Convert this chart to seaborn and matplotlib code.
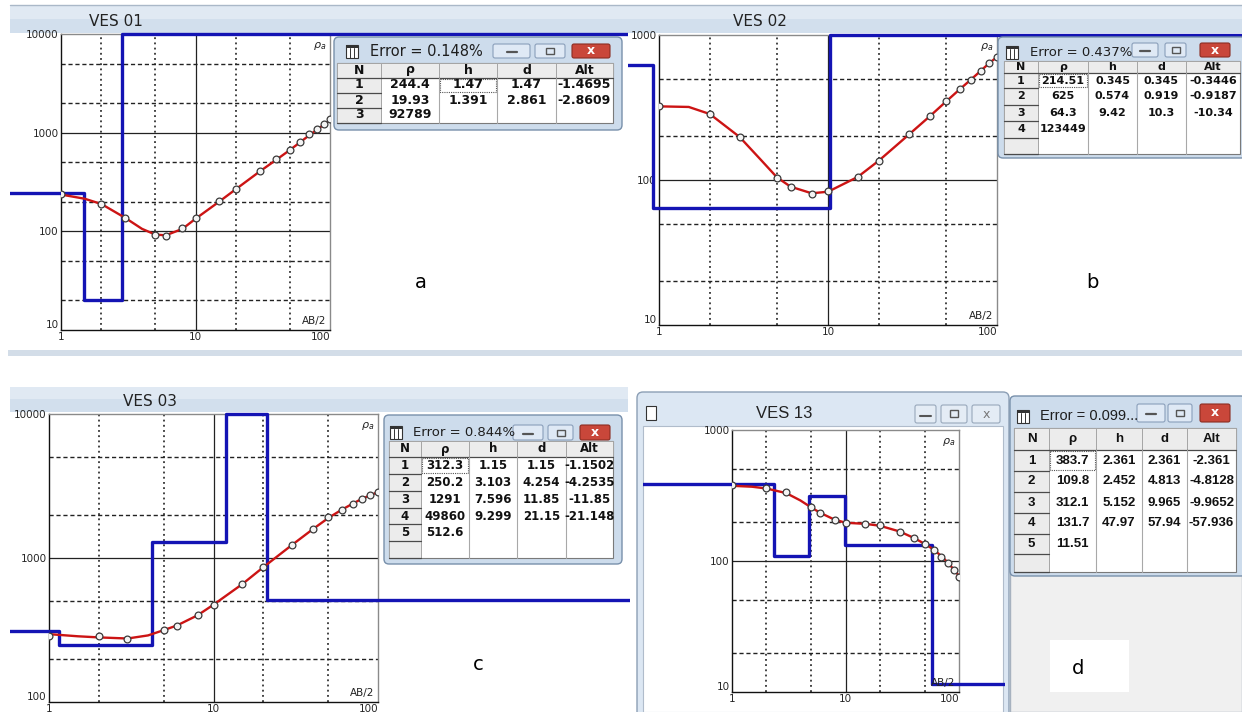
import numpy as np
import matplotlib
matplotlib.use("Agg")
import matplotlib.pyplot as plt
import seaborn as sns
from matplotlib.patches import Rectangle, FancyBboxPatch
from matplotlib.transforms import Bbox, TransformedBbox
from matplotlib.ticker import FixedLocator, LogLocator, NullFormatter

# ---------------- data ----------------
ab2 = [1, 2, 3, 5, 6, 8, 10, 15, 20, 30, 40, 50, 60, 70, 80, 90, 100]
fit_ab2 = [1, 1.5, 2, 3, 4, 5, 6, 8, 10, 15, 20, 30, 40, 50, 60, 70, 80, 90, 100]

ves01_obs = [237, 191, 136, 91, 90, 108, 138, 203, 271, 408, 536, 667, 809, 960, 1079, 1211, 1361]
ves01_fit = [236, 214, 189, 137, 106, 93, 91, 106, 134, 200, 268, 404, 533, 663, 800, 940, 1072, 1205, 1340]
ves01_rho = ["244.4", "19.93", "92789"]
ves01_h = ["1.47", "1.391"]
ves01_d = ["1.47", "2.861"]
ves01_alt = ["-1.4695", "-2.8609"]
ves01_err = "Error = 0.148%"

ves02_obs = [322, 283, 197, 104, 89, 80.5, 84, 105, 136, 206, 276, 349, 422, 492, 566, 643, 707]
ves02_fit = [322, 319, 285, 198, 138, 104, 90, 81, 83, 105, 136, 205, 275, 348, 421, 492, 565, 640, 705]
ves02_rho = ["214.51", "625", "64.3", "123449"]
ves02_h = ["0.345", "0.574", "9.42"]
ves02_d = ["0.345", "0.919", "10.3"]
ves02_alt = ["-0.3446", "-0.9187", "-10.34"]
ves02_err = "Error = 0.437%"

ves03_obs = [289, 289, 274, 315, 339, 402, 474, 659, 861, 1239, 1588, 1914, 2168, 2371, 2583, 2723, 2856]
ves03_fit = [296, 286, 281, 276, 290, 316, 340, 400, 474, 660, 860, 1232, 1580, 1900, 2160, 2380, 2580, 2730, 2870]
ves03_rho = ["312.3", "250.2", "1291", "49860", "512.6"]
ves03_h = ["1.15", "3.103", "7.596", "9.299"]
ves03_d = ["1.15", "4.254", "11.85", "21.15"]
ves03_alt = ["-1.1502", "-4.2535", "-11.85", "-21.148"]
ves03_err = "Error = 0.844%"

ves13_obs = [380, 358, 334, 259, 233, 205, 194, 191, 188, 167, 150, 134, 121, 108, 96, 85, 75]
ves13_fit = [375, 369, 358, 330, 290, 256, 233, 207, 196, 192, 186, 168, 150, 135, 122, 109, 97, 86, 77]
ves13_rho = ["383.7", "109.8", "312.1", "131.7", "11.51"]
ves13_h = ["2.361", "2.452", "5.152", "47.97"]
ves13_d = ["2.361", "4.813", "9.965", "57.94"]
ves13_alt = ["-2.361", "-4.8128", "-9.9652", "-57.936"]
ves13_err = "Error = 0.099..."

header = ["N", "ρ", "h", "d", "Alt"]

# ---------------- style ----------------
sns.set_theme(style="white")
plt.rcParams['font.family'] = ['DejaVu Sans']
plt.rcParams['mathtext.fontset'] = 'dejavusans'

BLUE = '#1414b4'
RED = '#cc1414'
W, H = 1242, 712
fig = plt.figure(figsize=(W / 100, H / 100), dpi=100)
fig.patch.set_facecolor('white')


def fig_rect(x0, y0, x1, y1):
    return [x0 / W, 1 - y1 / H, (x1 - x0) / W, (y1 - y0) / H]


def pix_bbox(x0, y0, x1, y1):
    return TransformedBbox(Bbox.from_extents(x0 / W, 1 - y1 / H, x1 / W, 1 - y0 / H), fig.transFigure)


bg = fig.add_axes([0, 0, 1, 1], zorder=-5)
bg.set_xlim(0, W); bg.set_ylim(H, 0); bg.axis('off')


def rect(ax, x0, y0, x1, y1, **kw):
    ax.add_patch(Rectangle((x0, y0), x1 - x0, y1 - y0, **kw))


# window chrome (background)
rect(bg, 10, 5, W, 19, fc='#e0e9f3', ec='none')
rect(bg, 10, 19, W, 33, fc='#d2dfed', ec='none')
bg.plot([10, W], [5, 5], color='#aab8c8', lw=1)
rect(bg, 8, 350, W, 356, fc='#d3dde8', ec='none')
rect(bg, 10, 387, 628, 399, fc='#e0e9f3', ec='none')
rect(bg, 10, 399, 628, 412, fc='#d2dfed', ec='none')
bg.add_patch(FancyBboxPatch((637, 392), 372, 340, boxstyle="round,pad=0,rounding_size=6",
                            fc='#dce7f3', ec='#8c9fb5', lw=1))
rect(bg, 643, 426, 1003, 712, fc='white', ec='#b0bccb', lw=0.8)
rect(bg, 1010, 570, W, H, fc='#f0f0f0', ec='#a7b2bf', lw=1)
rect(bg, 1050, 640, 1129, 692, fc='white', ec='none')

bg.text(116, 21, "VES 01", fontsize=11, ha='center', va='center', color='#222')
bg.text(760, 21, "VES 02", fontsize=11, ha='center', va='center', color='#222')
bg.text(150, 401, "VES 03", fontsize=11, ha='center', va='center', color='#222')
bg.text(784, 413, "VES 13", fontsize=12, ha='center', va='center', color='#222',
        family=['Liberation Sans', 'DejaVu Sans'])
rect(bg, 646, 406, 656, 420, fc='white', ec='#333', lw=0.8)
for (bx0, bx1) in [(915, 936), (941, 967), (972, 1000)]:
    bg.add_patch(FancyBboxPatch((bx0, 405), bx1 - bx0, 18, boxstyle="round,pad=0,rounding_size=2",
                                fc='#e4ecf5', ec='#98a8bb', lw=0.8))
bg.plot([920, 931], [416, 416], color='#555', lw=1.5)
rect(bg, 950, 410, 958, 417, fc='none', ec='#555', lw=1)
bg.text(986, 414, "x", fontsize=9, ha='center', va='center', color='#777')

for lab, (lx, ly) in zip("abcd", [(421, 283), (1092, 283), (478, 664), (1078, 668)]):
    bg.text(lx, ly, lab, fontsize=14, ha='center', va='center', color='black')


# ---------------- panels ----------------
def panel(rect_px, ylim, obs, fit, rho_txt, d_txt, clip_px):
    ax = fig.add_axes(fig_rect(*rect_px))
    ax.set_xscale('log'); ax.set_yscale('log')
    ax.set_facecolor('white')
    rho = [float(v) for v in rho_txt]
    d = [float(v) for v in d_txt]
    xs = [1e-3] + d + [1e5]
    ys = list(np.clip(rho + [rho[-1]], ylim[0], ylim[1]))
    sns.lineplot(x=xs, y=ys, ax=ax, drawstyle='steps-post', color=BLUE, lw=2.4,
                 estimator=None, sort=False, zorder=3)
    blue = ax.lines[-1]
    blue.set_clip_path(None)
    blue.set_clip_box(pix_bbox(*clip_px))
    sns.lineplot(x=fit_ab2, y=fit, ax=ax, color=RED, lw=1.7, estimator=None, sort=False, zorder=4)
    sns.scatterplot(x=ab2, y=obs, ax=ax, marker='o', s=24, facecolor='#f4f4f4',
                    edgecolor='#3a3a3a', linewidth=0.9, zorder=5)
    ax.set_xlim(1, 100)
    ax.set_ylim(*ylim)
    # grid
    for dec in [1, 10, 100, 1000, 10000]:
        for m in (2, 5):
            v = m * dec
            if 1 < v < 100:
                ax.axvline(v, color='#111', lw=1.1, ls=(0, (1.2, 2.2)), zorder=1)
            if ylim[0] < v < ylim[1]:
                ax.axhline(v, color='#222', lw=1.0, ls=(0, (3, 2)), zorder=1)
        if 1 < dec < 100:
            ax.axvline(dec, color='#222', lw=0.9, zorder=1)
        if ylim[0] < dec < ylim[1]:
            ax.axhline(dec, color='#222', lw=0.9, zorder=1)
    # ticks
    xt = [1, 10, 100]
    ax.set_xticks(xt, labels=[str(v) for v in xt])
    yt = [10 ** k for k in range(int(round(np.log10(ylim[0]))), int(round(np.log10(ylim[1]))) + 1)]
    ax.set_yticks(yt, labels=[str(v) for v in yt])
    for axis in (ax.xaxis, ax.yaxis):
        axis.set_minor_locator(LogLocator(base=10, subs=np.arange(2, 10)))
        axis.set_minor_formatter(NullFormatter())
    ax.tick_params(which='both', direction='in', top=False, right=False, color='#111',
                   labelsize=7.5, pad=1.5, width=0.8)
    ax.tick_params(which='major', length=4)
    ax.tick_params(which='minor', length=2.5)
    ax.get_xticklabels()[-1].set_ha('right')
    ax.get_yticklabels()[0].set_va('bottom')
    for s in ('left', 'bottom'):
        ax.spines[s].set_color('#111'); ax.spines[s].set_linewidth(1)
    for s in ('top', 'right'):
        ax.spines[s].set_color('#8a8a8a'); ax.spines[s].set_linewidth(1)
    ax.set_xlabel(''); ax.set_ylabel('')
    ax.annotate(r'$\rho_a$', xy=(1, 1), xycoords='axes fraction', xytext=(-3, -4),
                textcoords='offset points', ha='right', va='top', fontsize=8, color='#222')
    ax.annotate('AB/2', xy=(1, 0), xycoords='axes fraction', xytext=(-3, 3),
                textcoords='offset points', ha='right', va='bottom', fontsize=7.5, color='#222')
    return ax


panel((61, 34, 330, 330), (10, 10000), ves01_obs, ves01_fit, ves01_rho, ves01_d, (10, 30, 628, 334))
panel((659, 35, 997, 325), (10, 1000), ves02_obs, ves02_fit, ves02_rho, ves02_d, (628, 30, W, 329))
panel((49, 414, 378, 702), (100, 10000), ves03_obs, ves03_fit, ves03_rho, ves03_d, (10, 410, 630, 706))
panel((732, 430, 959, 692), (10, 1000), ves13_obs, ves13_fit, ves13_rho, ves13_d, (643, 425, 1005, 700))

# ---------------- tables (overlay) ----------------
ov = fig.add_axes([0, 0, 1, 1], zorder=10)
ov.set_xlim(0, W); ov.set_ylim(H, 0); ov.axis('off')


def cell_button(x0, y0, x1, y1):
    rect(ov, x0, y0, x1, y1, fc='#ececec', ec='#a5a5a5', lw=0.7)
    ov.plot([x0, x1], [y1, y1], color='#4a4a4a', lw=0.9)


def table(box, title, title_y, text_x, icon_x, btns, btn_y, cols, rows_y, rho, h, d, alt, sel,
          fs, fs_title, family, weight):
    x0, y0, x1, y1 = box
    ov.add_patch(FancyBboxPatch((x0, y0), x1 - x0, y1 - y0, boxstyle="round,pad=0,rounding_size=5",
                                fc='#cddcec', ec='#7890ab', lw=1.0))
    # title icon
    rect(ov, icon_x - 6, title_y - 6, icon_x + 6, title_y + 7, fc='white', ec='#333', lw=0.8)
    rect(ov, icon_x - 6, title_y - 6, icon_x + 6, title_y - 3, fc='#333', ec='none')
    for vx in (icon_x - 2, icon_x + 2):
        ov.plot([vx, vx], [title_y - 3, title_y + 7], color='#333', lw=0.7)
    ov.text(text_x, title_y, title, fontsize=fs_title, ha='left', va='center', color='#1e1e1e',
            family=family)
    # title buttons
    for k, (bx0, bx1) in enumerate(btns):
        close = (k == 2)
        ov.add_patch(FancyBboxPatch((bx0, btn_y[0]), bx1 - bx0, btn_y[1] - btn_y[0],
                                    boxstyle="round,pad=0,rounding_size=2",
                                    fc='#c9473a' if close else '#dfe9f5',
                                    ec='#8b2d22' if close else '#8a9fba', lw=0.8))
        cx, cy = (bx0 + bx1) / 2, (btn_y[0] + btn_y[1]) / 2
        if k == 0:
            ov.plot([cx - 5, cx + 5], [cy + 1, cy + 1], color='#555', lw=1.6)
        elif k == 1:
            rect(ov, cx - 4, cy - 3, cx + 4, cy + 3, fc='none', ec='#555', lw=1)
        else:
            ov.text(cx, cy, "x", fontsize=9, weight='bold', ha='center', va='center', color='white')
    # content
    cx0, cx1 = cols[0], cols[-1]
    ry0, ry1 = rows_y[0], rows_y[-1]
    rect(ov, cx0, ry0, cx1, ry1, fc='white', ec='#7a7a7a', lw=0.8)
    for i in range(len(cols) - 1):
        cell_button(cols[i], rows_y[0], cols[i + 1], rows_y[1])
    for r in range(1, len(rows_y) - 1):
        cell_button(cols[0], rows_y[r], cols[1], rows_y[r + 1])
    for c in cols[2:-1]:
        ov.plot([c, c], [rows_y[1], ry1], color='#a8a8a8', lw=0.8)
    mids = [(cols[i] + cols[i + 1]) / 2 for i in range(len(cols) - 1)]
    for i, t in enumerate(header):
        ov.text(mids[i], (rows_y[0] + rows_y[1]) / 2, t, fontsize=fs, weight=weight, ha='center',
                va='center', family=family, color='#111')
    for r in range(len(rho)):
        vals = [str(r + 1), rho[r],
                h[r] if r < len(h) else '', d[r] if r < len(d) else '', alt[r] if r < len(alt) else '']
        yc = (rows_y[r + 1] + rows_y[r + 2]) / 2
        for i, t in enumerate(vals):
            ov.text(mids[i], yc, t, fontsize=fs, weight=weight, ha='center', va='center',
                    family=family, color='#111')
    sc, sr = sel
    rect(ov, cols[sc] + 1, rows_y[sr] + 1, cols[sc + 1] - 1, rows_y[sr + 1] - 1,
         fc='none', ec='#555', lw=0.8, ls=(0, (1, 1)))


DV = ['DejaVu Sans']
LIB = ['Liberation Sans', 'DejaVu Sans']
table((334, 37, 622, 130), ves01_err, 51, 370, 352, [(493, 530), (535, 565), (572, 610)], (44, 58),
      [337, 381, 439, 497, 556, 613], [62.5, 77.5, 92.5, 107.5, 122.5],
      ves01_rho, ves01_h, ves01_d, ves01_alt, (2, 1), 9, 10.5, DV, 'bold')
table((998, 37, 1246, 158), ves02_err, 52, 1030, 1012, [(1132, 1158), (1165, 1186), (1200, 1230)], (43, 57),
      [1004, 1038, 1088, 1137, 1186, 1240], [61, 73, 88, 104.5, 121, 137.5, 154],
      ves02_rho, ves02_h, ves02_d, ves02_alt, (1, 1), 8, 9.5, DV, 'bold')
table((384, 415, 622, 564), ves03_err, 432, 413, 396, [(513, 543), (548, 573), (580, 610)], (425, 440),
      [389, 421, 469, 517, 566, 613], [441, 457, 474, 491, 508, 524, 541, 558],
      ves03_rho, ves03_h, ves03_d, ves03_alt, (1, 1), 8.5, 9.5, DV, 'bold')
table((1010, 396, 1246, 576), ves13_err, 416, 1040, 1023, [(1137, 1165), (1168, 1192), (1200, 1230)], (404, 422),
      [1014, 1049, 1096, 1142, 1187, 1236], [428, 450, 471, 492, 513, 534, 554, 572],
      ves13_rho, ves13_h, ves13_d, ves13_alt, (1, 1), 9.5, 10.5, LIB, 'bold')

fig.savefig("out.png", dpi=100)
